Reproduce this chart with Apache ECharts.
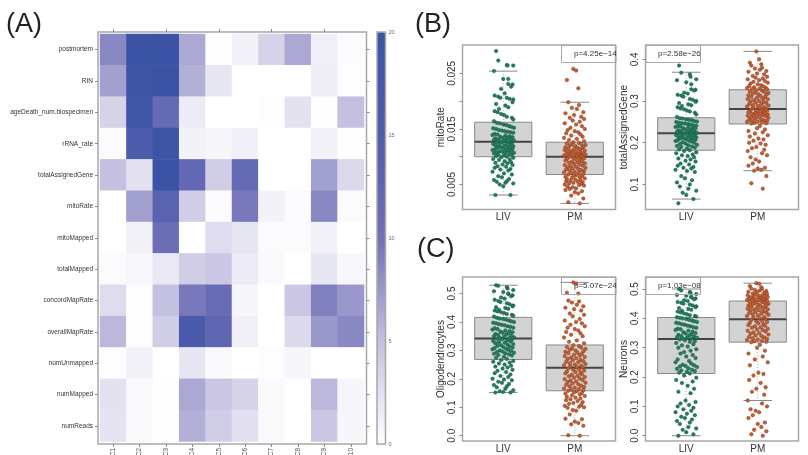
<!DOCTYPE html>
<html><head><meta charset="utf-8">
<style>html,body{margin:0;padding:0;background:#fff}#c{width:808px;height:455px}</style>
<script src="https://cdn.jsdelivr.net/npm/echarts@6/dist/echarts.min.js"></script>
</head><body><div id="c"></div>
<script>
const heatRows=['postmortem','RIN','ageDeath_num.biospecimen','rRNA_rate','totalAssignedGene','mitoRate','mitoMapped','totalMapped','concordMapRate','overallMapRate','numUnmapped','numMapped','numReads'];
const heatCols=['PC1','PC2','PC3','PC4','PC5','PC6','PC7','PC8','PC9','PC10'];
const heatValues=[
[8.5,20,20,6.5,0.1,1,3.5,6.5,1.3,0.3],
[7,19,20,6,2,0,0,0,1.4,0.2],
[3.5,18.5,11.5,1.5,0,0,0.2,2.3,0.1,5],
[0.3,15.5,19,1,0.8,1.2,0,0,1,0.1],
[5,2.4,20,12,4,11.5,0,0,7,3],
[0,7,13.5,4,0.3,9.5,1,0.3,8.5,0.3],
[0,1,10.5,0,2.8,2,0.3,0.3,1,0],
[0.3,0.6,1.8,4,4.5,1.5,0.4,0,2,0.6],
[2.8,0.2,5,9.5,11,0.7,0,4.5,9,7.5],
[5.5,0.2,4,16,12.5,1.2,0,3,7.5,8.5],
[0.2,1,0,2,0.4,0,0.2,0.7,0,0],
[2.3,0.5,0.1,6.5,4.5,3.5,0.4,0,5.5,0.7],
[2.2,0.4,0.1,6,4,2.5,0.5,0,4.5,0.7]];
const legendTicks=[0,5,10,15,20];
const groups=['LIV','PM'];
// min, q1, median, q3, max per group
const mitoBox=[[.0031,.0100,.0127,.0162,.0254],[.0016,.0068,.0100,.0126,.0198]];
const geneBox=[[.065,.182,.223,.26,.369],[.133,.245,.281,.327,.419]];
const oligoBox=[[.152,.268,.342,.416,.529],[0,.158,.239,.319,.539]];
const neuronBox=[[0,.212,.33,.403,.5],[.12,.319,.397,.459,.52]];
const jitLIV=[-10,-7,5,6,14,-13,0,7,7,13,11,-3,2,-12,-7,-4,5,9,14,13,-10,3,7,-6,-12,-8,-3,1,5,12,14,-13,-9,-5,0,4,8,11,15,-14,-10,-6,-2,2,6,10,14,-12,-8,-15,3,9,-4,13,-1,7,-11,4,-7,11,-13,1,15,-5,8,-9,-2,12,5,-14,10,-6,2,-11,14,6,-3,-8,9,0,13,-12,4,-15,7,-5,11,-1,-9,15,3,-13,8,-7,12,1,-10,5,-3,14,-14,9,-6,2,11,-11,6,-1,13,-8,4,-12,10,-4,7,-15,1,12,-7,-2,8,-13,5,-9,3,14,-5,0,10,-11,6,-8];
const jitPM=[-2,2,-11,5,-9,6,-4,3,12,-13,-1,9,-7,13,-3,7,-14,2,10,-6,14,-10,0,5,-12,8,-5,11,-15,3,-8,13,-2,6,-11,9,-4,15,-7,1,12,-13,4,-9,10,-1,7,-14,14,-5,2,-10,8,-3,12,-12,5,-7,15,0,-15,9,-6,3,11,-9,6,-2,13,-11,1,8,-13,10,-4,4,-8,14,-1,7,-14,11,-6,2,-10,15,-3,5,-12,9,-7,13,0,-15,6,-5,12,-9,3,-1,10,-13,7,-4,14,-11,1,8,-6,-12,4,11,-2,-8,9,-14,6,13,-10,-3,2,-7,-13,10,0,5,-5,12,-9,7];
const mitoLIV=[.029,.0273,.0265,.0264,.0264,.0254,.024,.024,.0231,.023,.0226,.0222,.0214,.021,.0208,.0206,.0206,.0204,.0203,.0198,.0195,.0192,.0189,.0186,.0182,.018,.0177,.0175,.0172,.017,.0167,.0164,.0161,.016,.0158,.0157,.0155,.0154,.0152,.0151,.015,.0148,.0147,.0146,.0145,.0144,.0143,.0141,.014,.0139,.0138,.0137,.0136,.0135,.0134,.0134,.0133,.0132,.0131,.013,.013,.0129,.0129,.0128,.0127,.0126,.0125,.0124,.0124,.0123,.0122,.0121,.012,.012,.0119,.0118,.0117,.0116,.0116,.0115,.0114,.0113,.0112,.0112,.0111,.011,.011,.0109,.0108,.0107,.0107,.0106,.0105,.0104,.0103,.0102,.0101,.01,.0099,.0098,.0096,.0095,.0094,.0092,.009,.0089,.0088,.0086,.0085,.0083,.0082,.008,.0078,.0077,.0075,.0073,.007,.0068,.0065,.0063,.006,.0058,.0056,.0055,.0053,.0052,.005,.0047,.0031,.0031];
const mitoPM=[.0258,.0255,.0238,.0223,.0198,.0193,.0188,.0186,.018,.0178,.0175,.0172,.017,.0168,.0165,.0163,.016,.0158,.0155,.0152,.015,.0148,.0146,.0144,.0142,.014,.0138,.0136,.0134,.0132,.013,.0128,.0126,.0125,.0124,.0123,.0122,.0121,.012,.0119,.0118,.0117,.0116,.0115,.0115,.0114,.0113,.0112,.0111,.011,.0109,.0109,.0108,.0107,.0106,.0105,.0105,.0104,.0104,.0103,.0102,.0102,.0101,.0101,.01,.0099,.0098,.0098,.0097,.0096,.0095,.0094,.0093,.0092,.0091,.009,.0089,.0088,.0087,.0086,.0085,.0084,.0083,.0082,.0081,.008,.0079,.0078,.0077,.0076,.0075,.0074,.0073,.0072,.0071,.007,.0069,.0068,.0067,.0066,.0065,.0064,.0063,.0062,.0061,.006,.0059,.0058,.0057,.0056,.0055,.0054,.0053,.0052,.0051,.005,.0049,.0048,.0046,.0045,.0043,.0042,.004,.0038,.0036,.0034,.003,.0025,.0018,.0016];
const geneLIV=[.385,.368,.364,.358,.352,.35,.345,.34,.328,.327,.325,.32,.318,.315,.313,.31,.305,.303,.3,.298,.295,.292,.29,.288,.285,.282,.28,.277,.275,.272,.268,.262,.259,.258,.256,.255,.254,.252,.251,.25,.248,.247,.246,.245,.244,.242,.241,.24,.239,.238,.237,.236,.235,.234,.232,.231,.23,.229,.228,.227,.226,.225,.224,.224,.223,.222,.221,.22,.219,.218,.217,.216,.215,.214,.213,.212,.211,.21,.209,.208,.207,.206,.205,.204,.203,.201,.2,.198,.197,.195,.194,.192,.191,.19,.188,.186,.184,.182,.18,.177,.175,.172,.17,.168,.165,.162,.16,.157,.155,.15,.148,.145,.142,.14,.138,.135,.132,.13,.12,.115,.11,.105,.1,.095,.09,.085,.08,.075,.065,.055];
const genePM=[.419,.4,.392,.388,.385,.38,.378,.375,.372,.37,.366,.364,.36,.358,.356,.354,.352,.35,.348,.346,.344,.342,.34,.338,.336,.335,.333,.332,.331,.33,.329,.328,.326,.325,.323,.322,.32,.319,.318,.316,.315,.314,.312,.31,.309,.308,.306,.305,.304,.302,.3,.299,.298,.296,.295,.293,.292,.29,.289,.288,.287,.285,.284,.283,.282,.28,.279,.278,.277,.276,.275,.274,.273,.272,.271,.27,.269,.268,.267,.266,.265,.264,.263,.262,.261,.26,.258,.256,.255,.254,.253,.252,.251,.25,.249,.248,.247,.246,.24,.235,.232,.228,.225,.222,.218,.215,.21,.208,.205,.2,.198,.195,.19,.187,.183,.18,.175,.17,.165,.16,.155,.15,.145,.14,.138,.135,.133,.12,.103,.09];
const oligoLIV=[.529,.527,.522,.518,.512,.508,.505,.5,.498,.494,.49,.486,.482,.478,.474,.47,.466,.462,.458,.455,.452,.449,.446,.443,.44,.437,.434,.431,.428,.425,.422,.419,.415,.412,.41,.408,.405,.402,.4,.397,.395,.392,.39,.388,.385,.383,.38,.378,.375,.373,.37,.368,.366,.364,.362,.36,.358,.356,.354,.352,.35,.348,.346,.344,.343,.341,.339,.337,.335,.333,.331,.329,.327,.325,.322,.32,.318,.316,.314,.312,.31,.308,.306,.304,.302,.3,.298,.296,.294,.292,.29,.288,.286,.284,.282,.278,.274,.27,.266,.263,.26,.257,.254,.25,.246,.243,.24,.236,.232,.228,.224,.22,.215,.21,.206,.2,.198,.195,.19,.186,.182,.178,.174,.17,.165,.16,.156,.154,.152,.152];
const oligoPM=[.539,.535,.503,.5,.475,.472,.468,.46,.455,.45,.445,.44,.43,.425,.42,.41,.405,.4,.395,.39,.385,.38,.375,.37,.365,.36,.355,.35,.345,.335,.33,.325,.318,.315,.312,.31,.307,.305,.302,.3,.297,.295,.292,.29,.287,.285,.282,.28,.277,.275,.272,.27,.267,.265,.262,.26,.258,.255,.252,.25,.248,.246,.244,.242,.24,.237,.234,.232,.229,.226,.224,.221,.219,.216,.214,.211,.209,.206,.204,.201,.199,.196,.194,.191,.189,.186,.184,.181,.179,.176,.174,.171,.169,.166,.164,.162,.16,.158,.156,.153,.15,.148,.145,.142,.14,.137,.134,.131,.128,.125,.122,.118,.115,.112,.108,.105,.102,.1,.098,.09,.088,.075,.06,.058,.05,.045,.04,.035,.002,0];
const neuronLIV=[.5,.495,.49,.487,.483,.48,.477,.474,.471,.468,.465,.462,.459,.456,.453,.45,.447,.444,.441,.438,.435,.432,.429,.426,.423,.42,.417,.414,.411,.408,.406,.404,.402,.4,.398,.395,.393,.39,.388,.385,.383,.38,.378,.375,.373,.37,.368,.365,.363,.36,.358,.355,.353,.35,.348,.346,.344,.342,.34,.338,.336,.335,.334,.332,.331,.328,.325,.322,.32,.316,.312,.308,.304,.3,.295,.29,.285,.28,.275,.27,.265,.26,.255,.25,.246,.242,.24,.238,.236,.234,.23,.228,.225,.222,.22,.218,.215,.212,.205,.198,.19,.185,.18,.17,.16,.15,.145,.12,.115,.11,.105,.1,.095,.09,.085,.08,.075,.07,.065,.06,.055,.05,.045,.04,.03,.025,.02,.012,.005,0];
const neuronPM=[.52,.518,.51,.506,.502,.5,.497,.495,.493,.491,.489,.487,.485,.484,.482,.48,.479,.477,.476,.474,.473,.472,.47,.469,.468,.466,.465,.464,.463,.462,.461,.46,.458,.456,.455,.453,.452,.45,.448,.447,.445,.444,.442,.44,.438,.437,.435,.433,.431,.43,.428,.426,.424,.422,.42,.418,.416,.414,.412,.41,.408,.405,.403,.4,.398,.395,.392,.39,.388,.385,.383,.38,.377,.375,.373,.37,.368,.365,.362,.36,.358,.355,.352,.35,.348,.345,.342,.34,.337,.335,.332,.33,.328,.326,.324,.322,.32,.319,.31,.3,.29,.28,.27,.26,.25,.24,.215,.21,.205,.19,.18,.165,.16,.15,.14,.12,.11,.1,.09,.085,.08,.07,.06,.045,.04,.03,.02,.015,.005,0];

const TXT='#333';
const FONT='"Liberation Sans",Arial,sans-serif';
const panels=[
 {name:'mitoRate',box:mitoBox,liv:mitoLIV,pm:mitoPM,left:462.5,top:45,h:164.5,min:.0005,max:.0301,labels:[.005,.015,.025],ticks:[.005,.01,.015,.02,.025],dec:3,p:'p=4.25e−14',pLeft:561,pText:574},
 {name:'totalAssignedGene',box:geneBox,liv:geneLIV,pm:genePM,left:645.5,top:45,h:164.5,min:.04,max:.4343,labels:[.1,.2,.3,.4],ticks:[.1,.2,.3,.4],dec:1,p:'p=2.58e−26',pLeft:645.5,pText:658},
 {name:'Oligodendrocytes',box:oligoBox,liv:oligoLIV,pm:oligoPM,left:462.5,top:277,h:164,min:-.0186,max:.558,labels:[0,.1,.2,.3,.4,.5],ticks:[0,.1,.2,.3,.4,.5],dec:1,p:'p=5.07e−24',pLeft:561,pText:574},
 {name:'Neurons',box:neuronBox,liv:neuronLIV,pm:neuronPM,left:645.5,top:277,h:164,min:-.018,max:.541,labels:[0,.1,.2,.3,.4,.5],ticks:[0,.1,.2,.3,.4,.5],dec:1,p:'p=1.03e−08',pLeft:645.5,pText:658}
];
const grid=[
 {left:100,top:34,width:264,height:407.5,show:false,outerBoundsMode:'none'},
 {left:98,top:32,width:268.5,height:412,show:true,borderColor:'#a8a8a8',borderWidth:1.5,backgroundColor:'transparent',outerBoundsMode:'none'},
 {left:377,top:32,width:8.5,height:412,show:true,borderColor:'#a8a8a8',borderWidth:1.5,backgroundColor:'transparent',z:5,outerBoundsMode:'none'}
];
const tick={show:true,length:3,lineStyle:{color:'#888',width:1}};
const xAxis=[
 {gridIndex:0,type:'category',data:heatCols,offset:2.5,axisLine:{show:false},axisTick:{...tick,alignWithLabel:true},splitLine:{show:false},
  axisLabel:{rotate:90,fontSize:6.5,color:'#555',fontFamily:FONT,margin:4,interval:0}},
 {gridIndex:0,type:'category',data:heatCols,position:'top',offset:2,axisLine:{show:false},axisTick:{...tick,alignWithLabel:true},axisLabel:{show:false},splitLine:{show:false}},
 {gridIndex:1,type:'value',show:false},
 {gridIndex:2,type:'value',show:false}
];
const yAxis=[
 {gridIndex:0,type:'category',data:heatRows,inverse:true,offset:2,axisLine:{show:false},axisTick:{...tick,alignWithLabel:true},splitLine:{show:false},
  axisLabel:{fontSize:6.5,color:TXT,fontFamily:FONT,margin:5,interval:0}},
 {gridIndex:0,type:'category',data:heatRows,inverse:true,position:'right',offset:2.5,axisLine:{show:false},axisTick:{...tick,alignWithLabel:true},axisLabel:{show:false},splitLine:{show:false}},
 {gridIndex:1,type:'value',show:false},
 {gridIndex:2,type:'value',min:0,max:20,interval:5,position:'right',axisLine:{show:false},axisTick:{...tick,length:2},splitLine:{show:false},
  axisLabel:{fontSize:5.5,color:'#666',fontFamily:FONT,margin:3,customValues:legendTicks}}
];
const heatData=[];
heatValues.forEach((r,i)=>r.forEach((v,j)=>heatData.push([j,i,v])));
const series=[{type:'heatmap',xAxisIndex:0,yAxisIndex:0,data:heatData,silent:true,itemStyle:{borderWidth:0},emphasis:{disabled:true}}];
const graphic=[];
function boxRender(params,api){
 const x=api.value(0),w=api.size([1,0])[0];
 const p=i=>api.coord([x,api.value(i)]);
 const lo=p(1),q1=p(2),md=p(3),q3=p(4),hi=p(5);
 const cx=lo[0],bw=w*.4,cw=w*.2;
 const grey={stroke:'#8a8a8a',lineWidth:1};
 return {type:'group',children:[
  {type:'line',shape:{x1:cx,y1:hi[1],x2:cx,y2:lo[1]},style:{stroke:'#aaa',lineWidth:1,lineDash:[1,2]}},
  {type:'line',shape:{x1:cx-cw,y1:hi[1],x2:cx+cw,y2:hi[1]},style:grey},
  {type:'line',shape:{x1:cx-cw,y1:lo[1],x2:cx+cw,y2:lo[1]},style:grey},
  {type:'rect',shape:{x:cx-bw,y:q3[1],width:bw*2,height:q1[1]-q3[1]},style:{fill:'#d3d3d3',stroke:'#8a8a8a',lineWidth:1}},
  {type:'line',shape:{x1:cx-bw,y1:md[1],x2:cx+bw,y2:md[1]},style:{stroke:'#444',lineWidth:2}}
 ]};
}
panels.forEach((P,k)=>{
 const gi=grid.length;
 grid.push({left:P.left,top:P.top,width:153,height:P.h,show:true,borderColor:'#a8a8a8',borderWidth:1.5,backgroundColor:'transparent',outerBoundsMode:'none'});
 const xi=xAxis.length,yi=yAxis.length;
 xAxis.push({gridIndex:gi,type:'value',min:.43,max:2.57,axisLine:{show:false},axisTick:{show:false},splitLine:{show:false},
  axisLabel:{customValues:[1,2],formatter:v=>groups[v-1],fontSize:10,color:TXT,fontFamily:FONT,margin:3}});
 yAxis.push({gridIndex:gi,type:'value',min:P.min,max:P.max,name:P.name,nameLocation:'middle',nameGap:15,nameRotate:90,
  nameTextStyle:{fontSize:10,color:TXT,fontFamily:FONT},axisLine:{show:false},splitLine:{show:false},
  axisTick:{show:true,length:3,lineStyle:{color:'#888'},customValues:P.ticks},
  axisLabel:{customValues:P.labels,rotate:90,fontSize:10,color:TXT,fontFamily:FONT,margin:5,formatter:v=>(+v).toFixed(P.dec),align:'center',verticalAlign:'bottom'}});
 series.push({type:'custom',xAxisIndex:xi,yAxisIndex:yi,silent:true,z:2,clip:false,renderItem:boxRender,encode:{x:0,y:[1,2,3,4,5]},
  data:P.box.map((b,i)=>[i+1,...b])});
 series.push({type:'scatter',name:P.name+' LIV',xAxisIndex:xi,yAxisIndex:yi,z:3,silent:true,symbolSize:3.5,
  itemStyle:{color:'#1f7f5f',borderColor:'#14553f',borderWidth:.5,opacity:1},
  data:P.liv.map((v,i)=>[1+jitLIV[i]/100,v])});
 series.push({type:'scatter',name:P.name+' PM',xAxisIndex:xi,yAxisIndex:yi,z:3,silent:true,symbolSize:3.5,
  itemStyle:{color:'#c9602c',borderColor:'#7a3524',borderWidth:.5,opacity:1},
  data:P.pm.map((v,i)=>[2+jitPM[i]/100,v])});
 graphic.push({type:'rect',z:10,left:P.pLeft,top:P.top,shape:{width:54.5,height:17},style:{fill:'transparent',stroke:'#a8a8a8',lineWidth:1}});
 graphic.push({type:'text',z:11,left:P.pText,top:P.top+4.5,style:{text:P.p,fontSize:8,fill:TXT,fontFamily:FONT}});
});
const panelTitle=(t,l,tp)=>({text:t,left:l,top:tp,padding:0,textStyle:{fontSize:27,fontWeight:'normal',color:'#222',fontFamily:FONT}});
const chart=echarts.init(document.getElementById('c'),null,{renderer:'canvas'});
chart.setOption({animation:false,backgroundColor:'#fff',
 title:[panelTitle('(A)',6,11),panelTitle('(B)',415,11),panelTitle('(C)',417,236)],
 grid,xAxis,yAxis,series,graphic,tooltip:{show:false},
 visualMap:{type:'continuous',seriesIndex:0,min:0,max:20,left:377,top:32,itemWidth:8.5,itemHeight:412,padding:0,calculable:false,hoverLink:false,
  text:null,inRange:{color:['#ffffff','#c4c0e0','#6f70b6','#4f5dae','#3a53a4']},outOfRange:{color:'#fff'}}
});
</script></body></html>
